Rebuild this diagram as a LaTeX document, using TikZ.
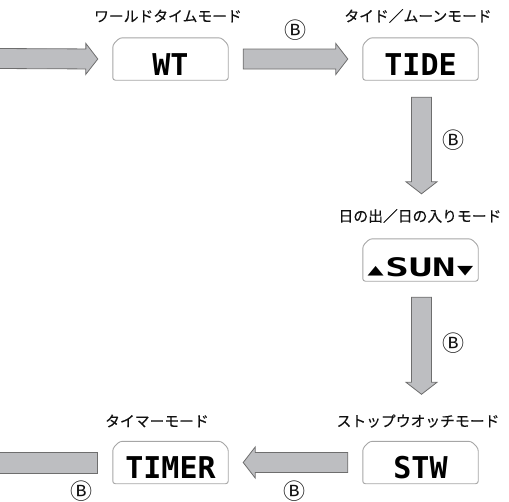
\documentclass[tikz,border=0pt]{standalone}
\usepackage{fontspec}
\usepackage{graphicx}
\usetikzlibrary{calc}
\newfontfamily\jp[FakeBold=0.3]{Noto Sans CJK JP}
\newfontfamily\jpk{Noto Sans CJK JP}
\newfontfamily\lcd{DejaVu Sans Mono}
\newfontfamily\djs{DejaVu Sans}
\definecolor{arrowfill}{HTML}{BDBEC1}
\definecolor{arrowline}{HTML}{6E6E6E}
\definecolor{boxline}{HTML}{A6A6A6}
\definecolor{ink}{HTML}{111111}
\newcommand{\fatarrow}[2]{%
  \coordinate (hb) at ($(#2)!12pt!(#1)$);
  \draw[fatarr] ($(#1)!10pt!90:(#2)$) -- ($(hb)!10pt!90:(#2)$) -- ($(hb)!15.5pt!90:(#2)$)
    -- (#2) -- ($(hb)!15.5pt!-90:(#2)$) -- ($(hb)!10pt!-90:(#2)$) -- ($(#1)!10pt!-90:(#2)$) -- cycle;}
\newcommand{\lcdbox}[1]{%
  \draw[lcdframe] ($(#1.north west)+(0,7)$) -- ($(#1.north west)+(7,0)$) -- ($(#1.north east)+(-7,0)$)
    -- ($(#1.north east)+(0,7)$) -- (#1.south east) -- (#1.south west) -- cycle;}
\newcommand{\tri}[1]{{\djs\fontsize{21}{21}\selectfont\raisebox{1.5pt}{\scalebox{1}[0.6]{#1}}}}
\newcommand{\suntext}{\tri{▲}\hspace{1.5pt}\scalebox{1.3}[0.85]{SUN}\hspace{1.5pt}\tri{▼}}
\begin{document}
\begin{tikzpicture}[x=1pt,y=-1pt,
  fatarr/.style={fill=arrowfill,draw=arrowline,line width=0.8pt,line join=miter},
  lcdframe/.style={draw=boxline,line width=0.9pt,rounded corners=2.5pt,fill=white},
  lcdnode/.style={minimum width=115pt,minimum height=42pt,inner sep=0pt,text height=32pt,text depth=0pt,
    font=\lcd\bfseries\fontsize{30}{30}\selectfont,text=black},
  title/.style={font=\jp\fontsize{14.8}{16}\selectfont,text=ink,inner sep=0pt},
  bkey/.style={font=\jpk\fontsize{22}{22}\selectfont,text=ink,inner sep=0pt}]
\useasboundingbox (0,0) rectangle (509,501);
% box nodes
\node[lcdnode] (wt) at (170.5,59) {};
\node[lcdnode] (tide) at (420.5,59) {};
\node[lcdnode] (sun) at (420.5,260) {};
\node[lcdnode] (timer) at (170.5,462.5) {};
\node[lcdnode] (stw) at (420.5,462.5) {};
\foreach \n in {wt,tide,sun,timer,stw}{\lcdbox{\n}}
\node[lcdnode] (wtt) at (wt) {WT};
\node[lcdnode] (tidet) at (tide) {TIDE};
\node[lcdnode] (sunt) at (sun) {\suntext};
\node[lcdnode] (timert) at (timer) {TIMER};
\node[lcdnode] (stwt) at (stw) {STW};
% titles
\node[title] (twt) at (168,16) {ワールドタイムモード};
\node[title] (ttide) at (418,16) {タイド／ムーンモード};
\node[title] (tsun) at (420,216) {日の出／日の入りモード};
\node[title] (ttimer) at (157,421) {タイマーモード};
\node[title] (tstw) at (418,421) {ストップウオッチモード};
% arrows
\coordinate (inS) at (-3,58.5);
\coordinate (outE) at (-3,463);
\coordinate (a0) at ($(wt.west)+(-15,0)$);
\fatarrow{inS}{a0}
\coordinate (a1s) at ($(wt.east)+(15,0)$);
\coordinate (a1e) at ($(tide.west)+(-15,0)$);
\fatarrow{a1s}{a1e}
\coordinate (a2s) at ($(tide.south)+(1,17)$);
\coordinate (a2e) at ($(sun.north)+(1,-45)$);
\fatarrow{a2s}{a2e}
\coordinate (a3s) at ($(sun.south)+(1,16)$);
\coordinate (a3e) at ($(stw.north)+(1,-47)$);
\fatarrow{a3s}{a3e}
\coordinate (a4s) at ($(stw.west)+(-15,0)$);
\coordinate (a4e) at ($(timer.east)+(15,0)$);
\fatarrow{a4s}{a4e}
\coordinate (a5s) at ($(timer.west)+(-15,0)$);
\draw[fatarr] ($(a5s)+(0,-10)$) rectangle ($(outE)+(0,10)$);
% B keys
\node[bkey] (b1) at (295,30) {Ⓑ};
\node[bkey] (b2) at (453,140) {Ⓑ};
\node[bkey] (b3) at (453,343) {Ⓑ};
\node[bkey] (b4) at (294,491) {Ⓑ};
\node[bkey] (b5) at (81,491) {Ⓑ};
\end{tikzpicture}
\end{document}
